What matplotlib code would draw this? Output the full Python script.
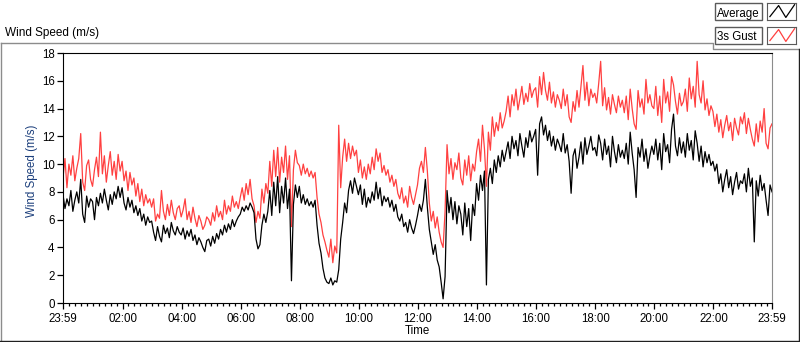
import matplotlib
matplotlib.use("Agg")
import matplotlib.pyplot as plt
import numpy as np
from matplotlib.lines import Line2D
from matplotlib.patches import Rectangle

# one sample every 4 minutes, starting 23:59 -> one row per hour
average = [
    7.8, 6.8, 7.5, 7.0, 8.1, 6.6, 7.4, 8.0, 7.2, 8.9, 6.4, 5.8, 7.7, 6.9, 7.5,
    7.3, 6.0, 7.6, 7.0, 7.9, 7.2, 8.2, 7.4, 6.7, 7.8, 7.1, 8.0, 7.5, 8.4, 7.6,
    8.3, 7.2, 6.7, 7.6, 6.9, 7.4, 6.5, 7.0, 6.3, 6.8, 5.9, 6.4, 5.6, 6.2, 5.8,
    5.9, 5.1, 4.5, 5.5, 4.8, 4.4, 5.6, 5.0, 5.4, 4.7, 5.8, 5.2, 4.9, 5.5, 5.1,
    4.9, 5.4, 4.6, 5.2, 4.8, 5.3, 4.5, 4.9, 4.2, 4.7, 4.4, 4.0, 3.7, 4.5, 4.6,
    4.1, 4.8, 4.3, 5.0, 4.6, 5.3, 4.9, 5.6, 5.1, 5.7, 5.3, 6.0, 5.5, 5.9, 6.2,
    6.4, 6.9, 6.6, 7.0, 6.7, 7.2, 6.9, 6.5, 4.6, 3.9, 4.2, 5.6, 6.4, 5.8, 6.6,
    8.1, 6.3, 8.7, 7.0, 9.1, 6.5, 8.4, 7.2, 9.0, 6.8, 8.2, 1.6, 7.1, 8.5, 7.6,
    8.4, 7.2, 7.8, 7.1, 7.5, 7.0, 7.3, 6.9, 7.4, 5.6, 4.3, 3.6, 2.5, 1.8, 1.5,
    1.4, 1.8, 1.3, 1.6, 1.5, 2.4, 4.6, 5.8, 7.2, 6.5, 8.1, 8.8, 7.9, 9.0, 8.4,
    7.8, 8.5, 7.1, 8.2, 6.9, 7.6, 7.2, 8.0, 7.4, 8.7, 7.5, 8.3, 7.0, 7.7, 7.3,
    7.6, 6.9, 7.4, 6.6, 7.1, 6.2, 5.9, 6.4, 5.5, 5.8, 5.1, 6.0, 5.4, 5.0, 5.6,
    6.3, 7.1, 6.6, 7.4, 8.9, 6.9, 5.3, 4.4, 3.5, 4.2, 3.1, 2.6, 1.5, 0.3, 1.9,
    8.1, 6.5, 7.6, 6.0, 7.3, 5.7, 7.0, 6.4, 4.9, 7.2, 5.5, 6.8, 4.5, 7.1, 6.3,
    8.6, 7.4, 9.2, 8.1, 9.5, 1.3, 8.9, 9.7, 8.6, 10.3, 9.4, 10.6, 9.8, 11.0, 10.2,
    10.9, 11.6, 10.4, 12.0, 11.1, 11.7, 10.6, 12.2, 11.3, 10.5, 11.9, 11.2, 12.4, 11.6, 12.0,
    12.5, 9.2, 12.9, 13.4, 12.1, 12.8, 11.7, 12.4, 11.3, 12.0, 11.0, 11.8, 11.4, 10.9, 12.2,
    10.8, 11.4, 10.2, 7.9, 10.6, 11.1, 9.7, 10.5, 11.6, 10.0, 11.9, 10.7, 11.3, 12.0, 11.0,
    11.2, 10.6, 12.1, 11.5, 10.3, 11.8, 10.7, 11.3, 9.8, 12.0, 10.9, 10.1, 11.4, 10.5, 11.0,
    10.4, 11.5, 10.0, 12.3, 10.8, 9.6, 7.6, 11.2, 10.5, 11.8, 10.2, 11.1, 9.7, 10.6, 11.3,
    10.7, 11.8, 10.3, 11.5, 9.6, 12.2, 10.9, 11.4, 10.1, 12.5, 13.6, 11.3, 10.6, 11.9, 10.8,
    11.6, 10.5, 12.2, 11.0, 11.7, 10.3, 12.4, 11.5, 10.2, 11.3, 9.8, 10.9, 10.1, 10.7, 9.9,
    10.2, 9.5, 10.0, 8.6, 9.3, 8.0, 8.9, 9.6, 8.3, 9.1, 7.8, 8.7, 9.4, 8.2, 8.8,
    8.6, 9.3, 8.0, 9.7, 8.4, 9.0, 4.4, 8.8, 7.7, 9.2, 8.1, 8.6, 7.4, 6.3, 8.5,
    8.0,
]
gust = [
    9.0, 10.4, 8.3, 10.0, 9.2, 10.6, 8.8, 9.7, 10.4, 12.2, 8.7, 8.1, 9.9, 10.3, 8.9,
    8.4, 9.6, 10.5, 9.1, 12.3, 9.3, 10.6, 8.7, 9.9, 10.9, 9.2, 10.2, 8.9, 10.7, 9.5,
    10.2, 8.8, 9.5, 8.1, 9.4, 8.5, 9.0, 7.7, 8.6, 7.3, 8.2, 7.0, 7.8, 7.2, 7.5,
    6.9, 7.5, 5.9, 6.4, 6.1, 8.1, 6.6, 6.0, 7.1, 6.3, 7.4, 6.5, 6.0, 6.8, 7.0,
    6.2, 6.7, 7.5, 6.0, 6.6, 5.8, 6.9, 6.1, 5.5, 6.3, 5.9, 5.3, 5.6, 6.2, 6.0,
    5.6, 6.5, 5.9, 7.0, 6.2, 6.6, 6.0, 7.4, 6.4, 7.0, 6.6, 7.7, 6.9, 7.3, 6.8,
    7.6, 8.3, 7.4, 8.6, 7.8, 8.9, 7.5, 7.0, 5.8, 6.6, 6.1, 8.2, 7.2, 8.6, 7.9,
    10.2, 8.4, 11.0, 9.1, 11.2, 8.7, 10.5, 9.4, 11.3, 8.9, 10.6, 5.5, 9.6, 11.0, 10.1,
    9.9, 9.2, 10.0, 9.3, 9.7, 9.1, 9.5, 9.0, 9.4, 7.6, 6.4, 5.8, 4.9, 4.4, 3.8,
    3.3, 4.6, 2.9, 4.1, 3.6, 12.8, 8.3, 10.5, 11.8, 10.2, 11.5, 10.4, 11.3, 10.6, 11.0,
    9.4, 10.3, 9.0, 9.8, 8.9, 10.0, 9.3, 10.5, 9.6, 11.1, 10.2, 10.8, 9.4, 9.9, 9.2,
    9.6, 8.7, 9.2, 8.4, 8.9, 7.9, 7.5, 8.3, 7.2, 7.7, 6.9, 8.4, 7.6, 7.1, 7.8,
    8.5, 9.7, 10.2, 9.4, 11.2, 9.5, 7.2, 5.9, 6.6, 5.4, 6.2, 5.1, 4.4, 4.0, 6.6,
    11.4, 9.3, 10.4, 8.9, 10.1, 9.6, 10.8, 9.0, 8.5, 10.3, 9.2, 10.6, 8.8, 10.0, 9.5,
    10.9, 11.8, 10.2, 12.8, 11.1, 8.4, 12.3, 11.0, 13.4, 12.0, 13.0, 12.4, 13.7, 12.6, 13.1,
    13.8, 14.9, 13.4, 15.0, 14.2, 15.4, 13.9, 14.7, 15.6, 14.3, 15.1, 14.5, 15.8, 14.8, 15.3,
    15.5, 14.1, 16.3, 15.0, 16.6, 15.3, 14.6, 15.9, 14.4, 15.2, 14.1, 15.0, 14.6, 14.0, 15.4,
    14.2, 15.0, 13.4, 13.0, 14.5, 13.8, 15.3, 14.1, 15.6, 17.1, 14.6, 15.9, 14.2, 15.4, 14.8,
    15.1, 14.4, 15.8, 17.4, 14.2, 15.5, 13.9, 14.8, 13.6, 15.0, 14.3, 13.7, 14.9, 14.1, 14.6,
    13.7, 14.9, 13.2, 15.4, 14.0, 12.9, 12.5, 15.3, 14.1, 14.7, 13.6, 16.1, 14.4, 15.0, 14.2,
    14.0, 15.6, 13.5, 14.9, 13.0, 16.1, 14.4, 15.2, 13.8, 16.3, 15.7, 14.5, 13.6, 15.1, 14.2,
    14.5, 15.4, 13.8, 16.2, 14.7, 15.6, 14.1, 17.4, 15.0, 14.4, 16.0, 13.9, 14.7, 13.5, 14.2,
    13.8, 12.7, 13.6, 12.3, 13.2, 11.9, 12.8, 13.5, 12.4, 13.0, 11.7, 13.3, 12.6, 12.1, 13.4,
    12.9, 13.7, 12.2, 13.3, 12.5, 11.8, 11.3, 12.9, 11.6, 13.1, 12.3, 14.0, 11.5, 11.1, 12.6,
    12.9,
]
tick_labels = ["23:59", "02:00", "04:00", "06:00", "08:00", "10:00", "12:00",
               "14:00", "16:00", "18:00", "20:00", "22:00", "23:59"]

W, H = 800, 342
FONT = "Liberation Sans"
FS = 8.3

# hours since 23:59
hours = np.arange(len(average)) * 4 / 60.0

fig = plt.figure(figsize=(W / 100, H / 100), dpi=100)
plt.rcParams["font.family"] = FONT


def fx(x):
    return x / W


def fy(y):
    return 1 - y / H


ax = fig.add_axes([fx(63), fy(303), fx(772) - fx(63), fy(53) - fy(303)])
ax.plot(hours, gust, color="#ff4040", lw=0.9)
ax.plot(hours, average, color="black", lw=0.9)
ax.set_xlim(0, 24)
ax.set_ylim(0, 18)

major = [0] + [2 * i + 1 / 60 for i in range(1, 12)] + [24]
ax.set_xticks(major, tick_labels)
minor = [m for m in np.arange(1 / 60, 24, 0.2) if min(abs(m - j) for j in major) > 0.05]
ax.set_xticks(minor, minor=True)
ax.set_yticks(range(0, 19, 2))
ax.tick_params(axis="both", direction="out", length=4, width=0.9,
               labelsize=FS, pad=2, colors="black")
ax.tick_params(axis="x", pad=3)
ax.tick_params(axis="x", which="minor", length=2.5, width=0.9)
for side in ("left", "top", "bottom"):
    ax.spines[side].set_color("black")
ax.spines["right"].set_color("#8c8c8c")

ax.set_ylabel("Wind Speed (m/s)", color="#1c3f7c", fontsize=FS)
ax.yaxis.set_label_coords((37.5 - 63) / 709, 0.53)
ax.set_xlabel("Time", fontsize=FS)
ax.xaxis.set_label_coords(0.5, (303 - 325) / 250)

fig.text(fx(5), fy(36), "Wind Speed (m/s)", fontsize=8.5, va="baseline")

# outer frame with a notch for the legend
def frame(xs, ys, color):
    fig.add_artist(Line2D([fx(v) for v in xs], [fy(v) for v in ys],
                          color=color, lw=1, transform=fig.transFigure))

frame([0.5, 712.5, 712.5, 798.5], [42.5, 42.5, 48.5, 48.5], "#8c8c8c")
frame([0.5, 0.5], [42.5, 341], "#8c8c8c")
frame([0, 798.5, 798.5], [340.5, 340.5, 48.5], "#202020")

# legend boxes
legend = [("Average", "black", 3), ("3s Gust", "#ff4040", 27)]
for name, color, top in legend:
    fig.add_artist(Rectangle((fx(715), fy(top + 17)), fx(47), fy(top) - fy(top + 17),
                             transform=fig.transFigure, facecolor="white",
                             edgecolor="#5a5a5a", lw=1))
    fig.text(fx(717), fy(top + 13.5), name, fontsize=FS, va="baseline")
    sax = fig.add_axes([fx(767), fy(top + 17), fx(29), fy(top) - fy(top + 17)])
    sax.plot([0.1, 0.4, 0.65, 0.95], [0.2, 0.85, 0.15, 0.9], color=color, lw=0.9)
    sax.set_xlim(0, 1)
    sax.set_ylim(0, 1)
    sax.set_xticks([])
    sax.set_yticks([])
    for sp in sax.spines.values():
        sp.set_color("#5a5a5a")

fig.savefig("out.png", dpi=100)
